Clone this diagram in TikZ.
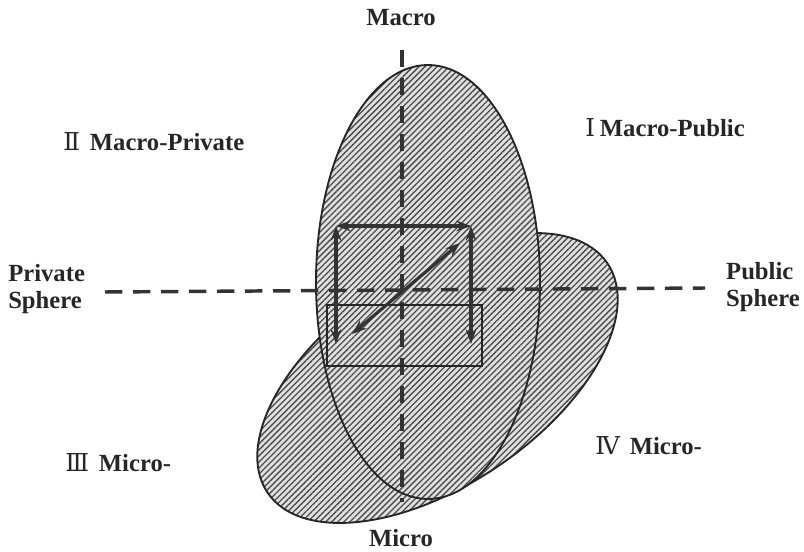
\documentclass[tikz,border=0pt]{standalone}
\usepackage{fontspec}
\setmainfont{Liberation Serif}
\newfontfamily\romfont{DejaVu Serif}
\usetikzlibrary{patterns.meta,arrows.meta}
\begin{document}
\begin{tikzpicture}[x=0.75pt,y=-0.75pt,
  lbl/.style={font=\fontsize{18.5}{19}\selectfont\bfseries, inner sep=0pt, text=black!85},
  axis/.style={line width=2.6pt, dash pattern=on 13pt off 8pt, black!80},
  hatchfill/.style={pattern={Lines[angle=45,distance=3.2pt,line width=1pt]}, pattern color=black!70},
  rim/.style={line width=1.4pt, black!85},
  dbl/.style={line width=2.4pt, black!80, {Stealth[length=11pt,width=8pt]}-{Stealth[length=11pt,width=8pt]}}]
\useasboundingbox (0,0) rectangle (804,552);
% tilted ellipse
\fill[black!12] (437.5,378) ellipse[x radius=205, y radius=107, rotate=34];
\fill[hatchfill] (437.5,378) ellipse[x radius=205, y radius=107, rotate=34];
\draw[rim] (437.5,378) ellipse[x radius=205, y radius=107, rotate=34];
% vertical ellipse
\fill[black!12] (428,282) ellipse[x radius=112, y radius=217];
\fill[hatchfill] (428,282) ellipse[x radius=112, y radius=217];
\draw[rim] (428,282) ellipse[x radius=112, y radius=217];
% axes
\coordinate (vt) at (402,50);
\coordinate (vb) at (402,502);
\coordinate (hl) at (105,292);
\coordinate (hr) at (705,288);
\draw[axis] (vt) -- (vb);
\draw[axis] (hl) -- (hr);
% rectangles and arrows
\node[draw, rim, line width=1.8pt, minimum width=155*0.75pt, minimum height=61*0.75pt, inner sep=0pt] (box) at (404.5,335.5) {};
\coordinate (tl) at (336,226);
\coordinate (tr) at (471,226);
\coordinate (bl) at (336,344);
\coordinate (br) at (471,344);
\coordinate (d1) at (352,334);
\coordinate (d2) at (460,243);
\draw[dbl] (tl) -- (tr);
\draw[dbl] (tl) -- (bl);
\draw[dbl] (tr) -- (br);
\draw[dbl] (d1) -- (d2);
% labels
\node[lbl] (macro) at (401,18) {Macro};
\node[lbl] (micro) at (401,538) {Micro};
\node[lbl, anchor=west, align=left] (priv) at (8,289) {Private\\[1pt]Sphere};
\node[lbl, anchor=east, align=left] (pub) at (800,287) {Public\\[1pt]Sphere};
\node[lbl, anchor=west] (q2) at (63,142) {{\romfont\mdseries Ⅱ}\hspace{0.4em}Macro-Private};
\node[lbl, anchor=west] (q1) at (585,128) {{\romfont\mdseries Ⅰ}\hspace{0.2em}Macro-Public};
\node[lbl, anchor=west] (q3) at (65,463) {{\romfont\mdseries Ⅲ}\hspace{0.4em}Micro-};
\node[lbl, anchor=west] (q4) at (595,446) {{\romfont\mdseries Ⅳ}\hspace{0.4em}Micro-};
\end{tikzpicture}
\end{document}
